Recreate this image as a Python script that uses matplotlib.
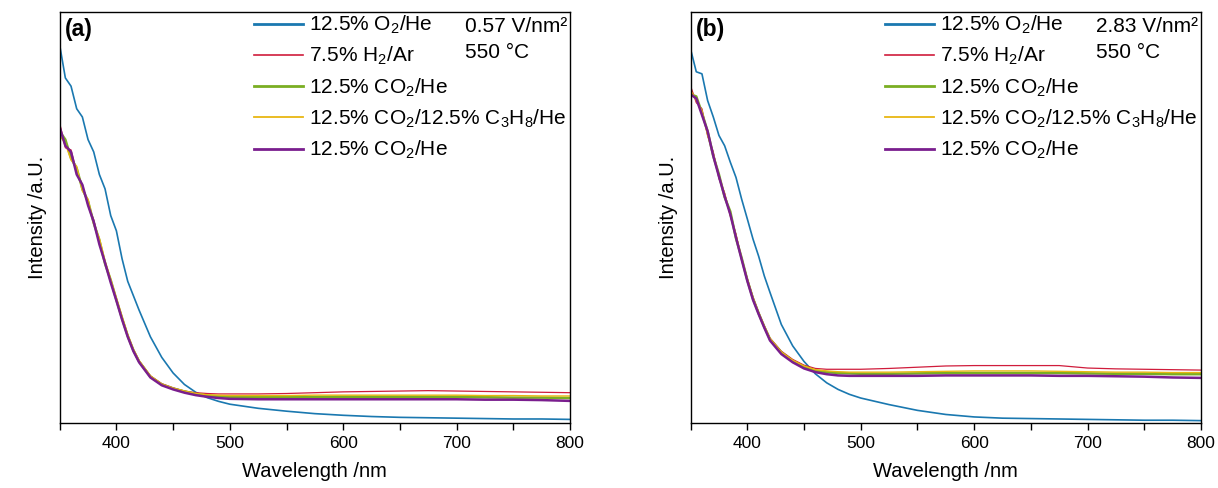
import matplotlib
matplotlib.use('Agg')
import matplotlib.pyplot as plt
from matplotlib.ticker import MultipleLocator

plt.rcParams['font.family'] = ['Liberation Sans', 'DejaVu Sans']
plt.rcParams['mathtext.fontset'] = 'custom'
plt.rcParams['mathtext.rm'] = 'Liberation Sans'
plt.rcParams['mathtext.it'] = 'Liberation Sans:italic'

# wavelength grid (nm), shared by both panels
wl = [350, 355, 360, 365, 370, 375, 380, 385, 390, 395, 400, 405, 410, 415, 420,
      430, 440, 450, 460, 470, 480, 490, 500,
      525, 550, 575, 600, 625, 650, 675, 700, 725, 750, 775, 800]

# (a) 0.57 V/nm2, 550 C
o2_a = [0.92, 0.84, 0.82, 0.765, 0.745, 0.69, 0.66, 0.605, 0.57, 0.505, 0.468, 0.40, 0.345, 0.31, 0.275,
        0.21, 0.16, 0.122, 0.094, 0.075, 0.062, 0.053, 0.046,
        0.036, 0.029, 0.023, 0.019, 0.016, 0.014, 0.013, 0.012, 0.011, 0.010, 0.010, 0.009]
h2_a = [0.73, 0.67, 0.665, 0.61, 0.58, 0.53, 0.495, 0.44, 0.392, 0.345, 0.302, 0.257, 0.214, 0.179, 0.152,
        0.115, 0.096, 0.086, 0.078, 0.074, 0.072, 0.071, 0.071,
        0.071, 0.072, 0.074, 0.076, 0.077, 0.078, 0.079, 0.078, 0.077, 0.076, 0.075, 0.074]
co2_a = [0.71, 0.69, 0.645, 0.62, 0.57, 0.54, 0.487, 0.445, 0.388, 0.348, 0.30, 0.255, 0.212, 0.177, 0.150,
         0.113, 0.094, 0.084, 0.077, 0.071, 0.067, 0.065, 0.064,
         0.063, 0.063, 0.063, 0.064, 0.064, 0.064, 0.064, 0.064, 0.063, 0.062, 0.062, 0.061]
mix_a = [0.70, 0.68, 0.64, 0.625, 0.565, 0.545, 0.485, 0.45, 0.395, 0.35, 0.305, 0.26, 0.216, 0.18, 0.152,
         0.115, 0.095, 0.085, 0.078, 0.072, 0.069, 0.068, 0.067,
         0.067, 0.067, 0.068, 0.068, 0.068, 0.068, 0.068, 0.068, 0.067, 0.067, 0.066, 0.066]
co2b_a = [0.72, 0.675, 0.66, 0.605, 0.58, 0.53, 0.49, 0.435, 0.39, 0.342, 0.298, 0.252, 0.21, 0.175, 0.148,
          0.111, 0.092, 0.082, 0.074, 0.068, 0.064, 0.061, 0.059,
          0.058, 0.058, 0.058, 0.058, 0.058, 0.058, 0.058, 0.058, 0.057, 0.057, 0.056, 0.054]

# (b) 2.83 V/nm2, 550 C
o2_b = [0.91, 0.855, 0.85, 0.785, 0.745, 0.70, 0.675, 0.635, 0.598, 0.545, 0.497, 0.448, 0.406, 0.358, 0.318,
        0.24, 0.188, 0.15, 0.12, 0.098, 0.082, 0.07, 0.061,
        0.045, 0.031, 0.021, 0.015, 0.012, 0.011, 0.010, 0.009, 0.008, 0.007, 0.007, 0.006]
h2_b = [0.82, 0.78, 0.765, 0.70, 0.66, 0.595, 0.56, 0.505, 0.46, 0.398, 0.352, 0.307, 0.27, 0.237, 0.207,
        0.175, 0.155, 0.141, 0.133, 0.131, 0.131, 0.131, 0.131,
        0.133, 0.136, 0.139, 0.140, 0.140, 0.140, 0.140, 0.134, 0.132, 0.131, 0.130, 0.129]
co2_b = [0.80, 0.795, 0.755, 0.71, 0.65, 0.605, 0.55, 0.515, 0.45, 0.402, 0.348, 0.303, 0.267, 0.234, 0.204,
         0.172, 0.151, 0.137, 0.128, 0.124, 0.122, 0.121, 0.120,
         0.120, 0.121, 0.122, 0.122, 0.122, 0.122, 0.122, 0.121, 0.120, 0.120, 0.119, 0.119]
mix_b = [0.81, 0.785, 0.76, 0.70, 0.655, 0.60, 0.558, 0.505, 0.458, 0.40, 0.35, 0.305, 0.268, 0.236, 0.206,
         0.173, 0.153, 0.139, 0.130, 0.127, 0.125, 0.124, 0.124,
         0.124, 0.125, 0.126, 0.127, 0.127, 0.127, 0.126, 0.125, 0.124, 0.124, 0.123, 0.123]
co2b_b = [0.80, 0.79, 0.75, 0.71, 0.65, 0.60, 0.552, 0.508, 0.452, 0.398, 0.346, 0.30, 0.265, 0.232, 0.201,
          0.168, 0.148, 0.133, 0.124, 0.119, 0.116, 0.115, 0.115,
          0.115, 0.115, 0.116, 0.116, 0.116, 0.116, 0.115, 0.115, 0.114, 0.113, 0.111, 0.110]

labels = ['12.5% O$_2$/He', '7.5% H$_2$/Ar', '12.5% CO$_2$/He',
          '12.5% CO$_2$/12.5% C$_3$H$_8$/He', '12.5% CO$_2$/He']
colors = ['#1a78b0', '#d01c3c', '#7aae22', '#e8b612', '#7a1e8e']
widths = [1.2, 0.9, 1.8, 1.0, 1.8]

panels = [
    ('(a)', '0.57 V/nm²', [o2_a, h2_a, co2_a, mix_a, co2b_a]),
    ('(b)', '2.83 V/nm²', [o2_b, h2_b, co2_b, mix_b, co2b_b]),
]

fig = plt.figure(figsize=(12.18, 4.88), dpi=100)
lefts = [0.049, 0.567]

for left, (tag, field, series) in zip(lefts, panels):
    ax = fig.add_axes([left, 0.133, 0.419, 0.842])
    for y, c, lw, lab in zip(series, colors, widths, labels):
        ax.plot(wl, y, color=c, lw=lw, label=lab)

    ax.set_xlim(350, 800)
    ax.set_ylim(0, 1)
    ax.xaxis.set_major_locator(MultipleLocator(100))
    ax.xaxis.set_minor_locator(MultipleLocator(50))
    ax.tick_params(axis='x', which='both', direction='out', length=5, width=1,
                   labelsize=12.5, pad=4, top=False)
    ax.tick_params(axis='y', which='both', left=False, labelleft=False)
    for s in ax.spines.values():
        s.set_linewidth(1.0)

    ax.set_xlabel('Wavelength /nm', fontsize=14.5, labelpad=8)
    ax.set_ylabel('Intensity /a.U.', fontsize=14.5, labelpad=9)

    ax.text(0.01, 0.957, tag, transform=ax.transAxes, fontsize=16.5,
            fontweight='bold', va='center', ha='left')
    ax.text(0.794, 0.966, field, transform=ax.transAxes, fontsize=15, va='center')
    ax.text(0.794, 0.903, '550 °C', transform=ax.transAxes, fontsize=15, va='center')

    leg = ax.legend(loc='upper left', bbox_to_anchor=(0.372, 1.006), frameon=False,
                    fontsize=15, handlelength=2.35, handletextpad=0.32,
                    labelspacing=0.43, borderpad=0.2, borderaxespad=0)
    for h in leg.get_lines():
        h.set_linewidth(2.0)
    leg.get_lines()[1].set_linewidth(1.2)
    leg.get_lines()[3].set_linewidth(1.3)

fig.savefig('out.png', dpi=100)
